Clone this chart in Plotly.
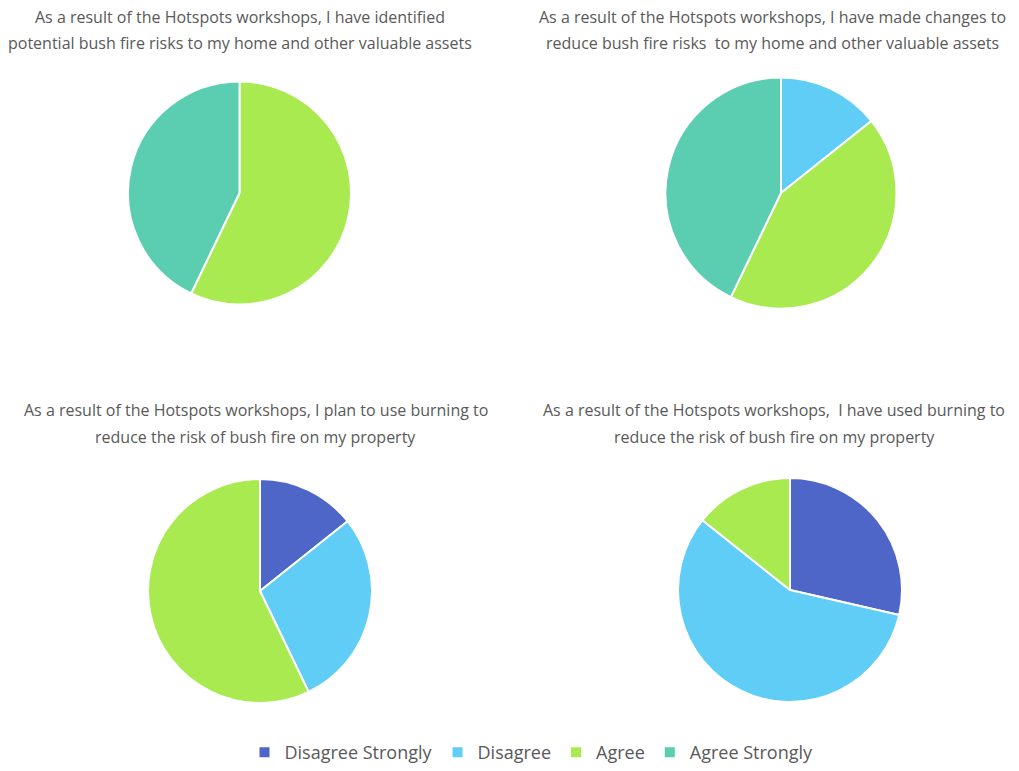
import plotly.graph_objects as go

W, H = 1019, 771

categories = ["Disagree Strongly", "Disagree", "Agree", "Agree Strongly"]
colors = ["#4F66C9", "#5FCDF5", "#A8EA50", "#5BCDB1"]

identified_risks = [0, 0, 4, 3]
made_changes = [0, 1, 3, 3]
plan_burning = [1, 2, 4, 0]
used_burning = [2, 4, 1, 0]

titles = [
    ["As a result of the Hotspots workshops, I have identified",
     "potential bush fire risks to my home and other valuable assets"],
    ["As a result of the Hotspots workshops, I have made changes to",
     "reduce bush fire risks  to my home and other valuable assets"],
    ["As a result of the Hotspots workshops, I plan to use burning to",
     "reduce the risk of bush fire on my property"],
    ["As a result of the Hotspots workshops,  I have used burning to",
     "reduce the risk of bush fire on my property"],
]

# pie centers / radii in pixels (layout)
pies = [
    (identified_risks, 239.5, 193, 111.5),
    (made_changes, 781, 193, 115.5),
    (plan_burning, 260, 591, 112),
    (used_burning, 790, 590, 112),
]
title_pos = [(240, 17, 43), (772, 17, 43), (256, 410, 437), (774, 410, 437)]

fig = go.Figure()
for i, (vals, cx, cy, r) in enumerate(pies):
    fig.add_trace(go.Pie(
        labels=categories,
        values=vals,
        sort=False,
        direction="clockwise",
        rotation=0,
        textinfo="none",
        hoverinfo="label+value",
        marker=dict(colors=colors, line=dict(color="white", width=2)),
        domain=dict(x=[(cx - r) / W, (cx + r) / W],
                    y=[1 - (cy + r) / H, 1 - (cy - r) / H]),
        showlegend=(i == 0),
    ))

annotations = []
for (l1, l2), (tx, y1, y2) in zip(titles, title_pos):
    for txt, ty in ((l1, y1), (l2, y2)):
        annotations.append(dict(
            text=txt, x=tx / W, y=1 - ty / H, xref="paper", yref="paper",
            xanchor="center", yanchor="middle", showarrow=False,
            font=dict(family="Open Sans", size=16, color="#595959"),
        ))

fig.update_layout(
    width=W, height=H,
    margin=dict(l=0, r=0, t=0, b=0),
    paper_bgcolor="white",
    plot_bgcolor="white",
    annotations=annotations,
    legend=dict(
        orientation="h", x=531.5 / W, xanchor="center", y=0, yanchor="bottom",
        font=dict(family="Open Sans", size=18, color="#595959"),
        traceorder="normal",
    ),
)

fig.write_html("out.html")
